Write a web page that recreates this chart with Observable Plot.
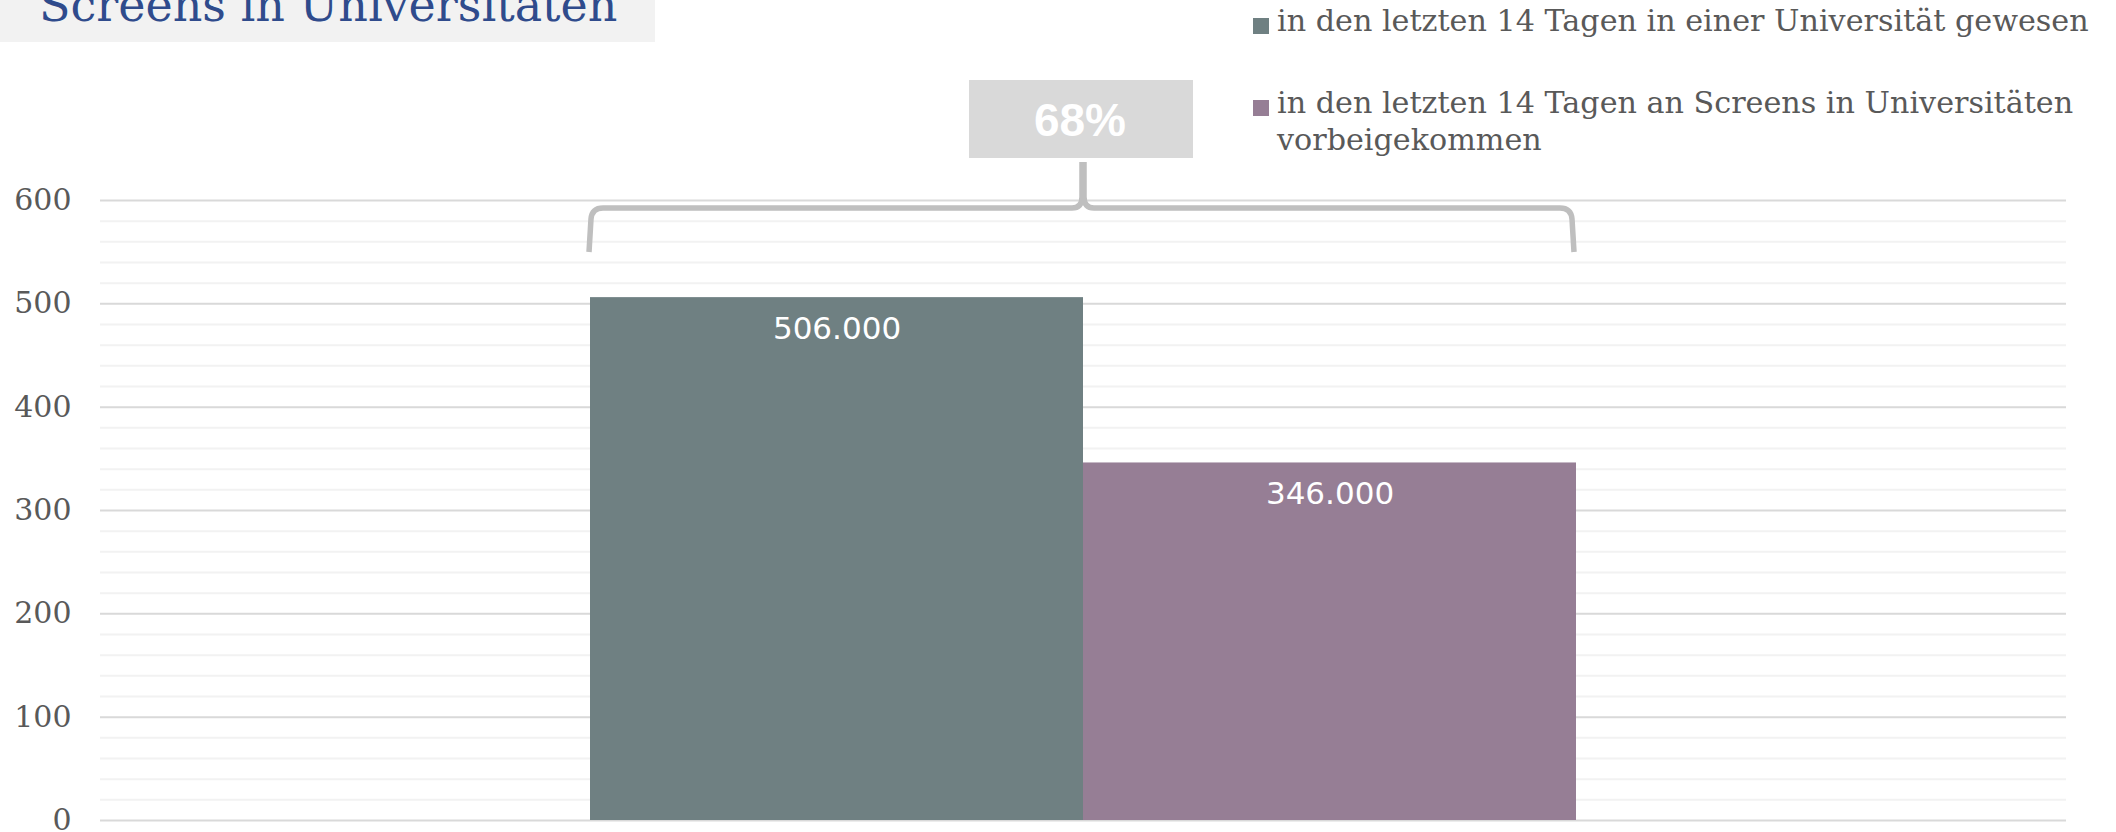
<!DOCTYPE html>
<html>
<head>
<meta charset="utf-8">
<script src="https://cdn.jsdelivr.net/npm/d3@7"></script>
<script src="https://cdn.jsdelivr.net/npm/@observablehq/plot@0.6"></script>
<style>
  html, body { margin: 0; padding: 0; background: #ffffff; }
  #wrap { position: relative; width: 2116px; height: 832px; overflow: hidden; }
  #title { position: absolute; left: 0; top: 0; width: 655px; height: 42px; background: #f2f2f2; overflow: hidden; }
  #title span { position: absolute; left: 39px; top: -18px; font-family: "DejaVu Serif", serif; font-size: 46px; line-height: 46px; color: #2f4b8c; white-space: nowrap; }
  .leg { position: absolute; left: 1253px; width: 850px; font-family: "DejaVu Serif", serif; font-size: 30.2px; line-height: 37px; color: #595959; }
  .leg i { position: absolute; left: 0; width: 16px; height: 16px; }
  .leg span { display: block; margin-left: 24px; }
  #chart { position: absolute; left: 0; top: 0; }
</style>
</head>
<body>
<div id="wrap">
  <div id="chart"></div>
  <div id="title"></div>
  <div id="legend"></div>
</div>
<script>
// ---- data ----
const title = "Screens in Universitäten";
const series = [
  "in den letzten 14 Tagen in einer Universität gewesen",
  "in den letzten 14 Tagen an Screens in Universitäten vorbeigekommen"
];
const values = [506, 346]; // in Tausend
const colors = ["#6f8082", "#967e95"];
const yTicks = [0, 100, 200, 300, 400, 500, 600];
const yMinor = [20, 40, 60, 80, 120, 140, 160, 180, 220, 240, 260, 280, 320, 340, 360, 380,
                420, 440, 460, 480, 520, 540, 560, 580];

const data = series.map((s, i) => ({series: s, value: values[i]}));
const share = Math.round(values[1] / values[0] * 100) + "%";

// ---- brace + share box (drawn with the plot's scales) ----
function braceMark(index, scales) {
  const x = scales.x, y = scales.y;
  const bw = typeof x.bandwidth === "function" ? x.bandwidth() : x.bandwidth;
  const xl = x(series[0]), xr = x(series[1]) + bw;
  const x0 = xl - 1, x1 = xr - 2, xc = (xl + xr) / 2;
  const yTop = y(d3.max(yTicks));
  const h = yTop + 8, ends = yTop + 52, tip = yTop - 38, r = 11;
  const g = d3.create("svg:g");
  const p = d3.path();
  p.moveTo(x0, ends);
  p.lineTo(x0 + 2, h + r);
  p.quadraticCurveTo(x0 + 3, h, x0 + r + 3, h);
  p.lineTo(xc - r, h);
  p.quadraticCurveTo(xc - 1, h, xc - 1, h - r);
  p.lineTo(xc - 1, tip);
  p.moveTo(xc + 1, tip);
  p.lineTo(xc + 1, h - r);
  p.quadraticCurveTo(xc + 1, h, xc + r, h);
  p.lineTo(x1 - r - 3, h);
  p.quadraticCurveTo(x1 - 3, h, x1 - 2, h + r);
  p.lineTo(x1, ends);
  g.append("path").attr("d", p.toString())
    .attr("fill", "none").attr("stroke", "#bfbfbf").attr("stroke-width", 5.5)
    .attr("stroke-linejoin", "round");
  const bwBox = 224, boxTop = yTop - 120, boxBot = yTop - 42;
  g.append("rect").attr("x", xc - 2 - bwBox / 2).attr("y", boxTop)
    .attr("width", bwBox).attr("height", boxBot - boxTop).attr("fill", "#d9d9d9");
  g.append("text").attr("x", xc - 3).attr("y", yTop - 64)
    .attr("text-anchor", "middle").attr("fill", "#ffffff")
    .attr("font-family", "'Liberation Sans', Arial, sans-serif")
    .attr("font-weight", "bold").attr("font-size", 46)
    .text(share);
  return g.node();
}

const plot = Plot.plot({
  width: 2116,
  height: 832,
  marginTop: 200,
  marginBottom: 12,
  marginLeft: 100,
  marginRight: 50,
  x: {domain: series, paddingInner: 0, paddingOuter: 0.99, axis: null},
  y: {domain: [0, 600]},
  color: {domain: series, range: colors},
  style: {background: "transparent", color: "#595959", overflow: "visible", fontFamily: "DejaVu Serif"},
  marks: [
    Plot.ruleY(yMinor, {stroke: "#f2f2f2", strokeWidth: 2}),
    Plot.ruleY(yTicks, {stroke: "#d9d9d9", strokeWidth: 2}),
    Plot.axisY({ticks: yTicks, tickSize: 0, tickPadding: 29, fontSize: 30,
                fontFamily: "DejaVu Serif", tickFormat: d => String(d), label: null}),
    Plot.barY(data, {x: "series", y: "value", fill: "series"}),
    Plot.text(data, {x: "series", y: "value", dy: 31,
                     text: d => (d.value * 1000).toLocaleString("de-DE"),
                     fill: "#ffffff", fontSize: 31, fontFamily: "DejaVu Sans"}),
    braceMark
  ]
});
document.getElementById("chart").appendChild(plot);

// ---- title ----
const t = document.createElement("span");
t.textContent = title;
document.getElementById("title").appendChild(t);

// ---- legend ----
const legTops = [2, 84];
const legend = document.getElementById("legend");
series.forEach((s, i) => {
  const d = document.createElement("div");
  d.className = "leg";
  d.style.top = legTops[i] + "px";
  const sw = document.createElement("i");
  sw.style.background = colors[i];
  sw.style.top = "16px";
  const sp = document.createElement("span");
  sp.textContent = s;
  d.appendChild(sw);
  d.appendChild(sp);
  legend.appendChild(d);
});
</script>
</body>
</html>
